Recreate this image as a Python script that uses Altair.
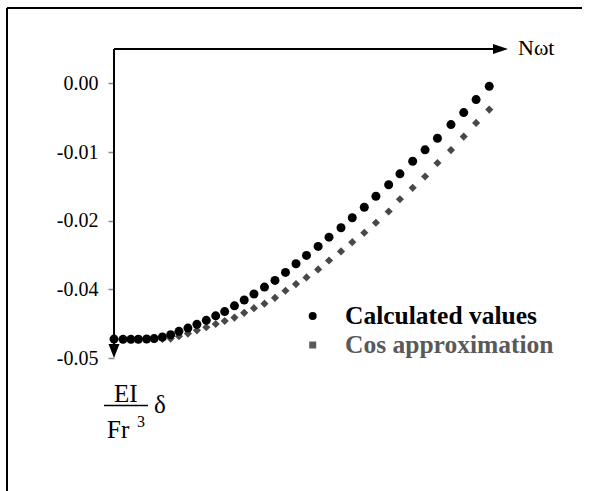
import altair as alt
import pandas as pd

# ---------------- data ----------------
x_vals = [0.0, 0.024, 0.045, 0.065, 0.087, 0.107, 0.129, 0.151, 0.173, 0.197,
          0.221, 0.246, 0.271, 0.295, 0.321, 0.347, 0.373, 0.401, 0.429, 0.457,
          0.485, 0.513, 0.544, 0.573, 0.605, 0.635, 0.667, 0.698, 0.732, 0.762,
          0.796, 0.829, 0.862, 0.898, 0.932, 0.965, 1.0]

calc_vals = [-0.04656, -0.04660, -0.04660, -0.04658, -0.04655, -0.04647, -0.04618,
             -0.04575, -0.04515, -0.04455, -0.04387, -0.04315, -0.04233, -0.04155,
             -0.04051, -0.03944, -0.03835, -0.03709, -0.03587, -0.03442, -0.03284,
             -0.03133, -0.02969, -0.02800, -0.02629, -0.02447, -0.02255, -0.02055,
             -0.01847, -0.01647, -0.01418, -0.01211, -0.01000, -0.00751, -0.00533,
             -0.00296, -0.00055]

cos_vals = [-0.04656, -0.04660, -0.04660, -0.04660, -0.04660, -0.04658, -0.04655,
            -0.04647, -0.04605, -0.04556, -0.04496, -0.04440, -0.04382, -0.04327,
            -0.04264, -0.04178, -0.04093, -0.04011, -0.03905, -0.03775, -0.03655,
            -0.03533, -0.03387, -0.03224, -0.03060, -0.02891, -0.02720, -0.02538,
            -0.02333, -0.02111, -0.01902, -0.01696, -0.01450, -0.01215, -0.00969,
            -0.00720, -0.00478]

y_tick_values = [0.0, -0.0125, -0.025, -0.0375, -0.05]
y_tick_labels = ["0.00", "-0.01", "-0.02", "-0.04", "-0.05"]
series_names = ["Calculated values", "Cos approximation"]
x_title = ["Nωt"]
y_title_num = ["EI"]
y_title_den = ["Fr"]
y_title_exp = ["3"]
y_title_sym = ["δ"]

# ---------------- layout ----------------
W, H = 394, 309
LEFT, TOP = 114, 49
X_MAX = 1.05
Y_MIN, Y_MAX = -0.05, 0.00625
FONT = "Liberation Serif, Times New Roman, serif"

xs = alt.Scale(domain=[0, X_MAX], nice=False, zero=False)
ys = alt.Scale(domain=[Y_MIN, Y_MAX], nice=False, zero=False)

label_arr = "[" + ",".join("'%s'" % s for s in y_tick_labels) + "]"
y_axis = alt.Axis(values=y_tick_values,
                  labelExpr=label_arr + "[round(-datum.value/0.0125)]",
                  domain=False, grid=False, ticks=True, tickColor="#8a8a8a",
                  tickSize=6, tickWidth=1.5, labelFont=FONT, labelFontSize=20,
                  labelColor="black", labelPadding=10, title=None)

X = alt.X("x:Q", scale=xs, axis=None)
Y = alt.Y("y:Q", scale=ys, axis=y_axis)

calc_df = pd.DataFrame({"x": x_vals, "y": calc_vals})
cos_df = pd.DataFrame({"x": x_vals, "y": cos_vals})

cos_layer = alt.Chart(cos_df).mark_point(
    shape="diamond", filled=True, size=66, color="#484848", opacity=1
).encode(x=X, y=Y)

calc_layer = alt.Chart(calc_df).mark_point(
    shape="circle", filled=True, size=81, color="black", opacity=1
).encode(x=X, y=Y)

# axis arrows (drawn through the scales)
h_df = pd.DataFrame({"x": [0.0], "x2": [X_MAX - 0.01], "y": [Y_MAX]})
v_df = pd.DataFrame({"x": [0.0], "y": [Y_MIN + 0.001], "y2": [Y_MAX]})
h_line = alt.Chart(h_df).mark_rule(color="black", strokeWidth=2).encode(
    x=X, x2="x2:Q", y=Y)
v_line = alt.Chart(v_df).mark_rule(color="black", strokeWidth=2).encode(
    x=X, y=Y, y2="y2:Q")

ha_df = pd.DataFrame({"x": [X_MAX], "y": [Y_MAX]})
va_df = pd.DataFrame({"x": [0.0], "y": [Y_MIN]})
h_head = alt.Chart(ha_df).mark_point(
    shape="M-2,-0.667L0,0L-2,0.667Z", filled=True, size=225, color="black", opacity=1
).encode(x=X, y=Y)
v_head = alt.Chart(va_df).mark_point(
    shape="M-0.786,-2L0,0L0.786,-2Z", filled=True, size=196, color="black", opacity=1
).encode(x=X, y=Y)

one = pd.DataFrame({"k": [0]})


def txt(s, x, y, size, color="black", weight="normal"):
    return alt.Chart(one).mark_text(
        text=s, font=FONT, fontSize=size, color=color, fontWeight=weight,
        align="left", baseline="alphabetic"
    ).encode(x=alt.value(x), y=alt.value(y))


def rule(x1, x2, y1, y2, w):
    return alt.Chart(one).mark_rule(color="black", strokeWidth=w).encode(
        x=alt.value(x1), x2=alt.value(x2), y=alt.value(y1), y2=alt.value(y2))


# outer frame (top and left)
frame_top = rule(7 - LEFT, 582 - LEFT, 8 - TOP, 8 - TOP, 2)
frame_left = rule(7 - LEFT, 7 - LEFT, 8 - TOP, 491 - TOP, 2)

# axis titles
t_x = txt(x_title[0], 404, 6, 22)
t_num = txt(y_title_num[0], 0, 353, 25)
t_line = rule(-10, 34, 356.5, 356.5, 1.5)
t_den = txt(y_title_den[0], -7, 389, 25)
t_exp = txt(y_title_exp[0], 23, 378, 16)
t_sym = txt(y_title_sym[0], 40, 364, 25)

# legend
leg_c = alt.Chart(one).mark_point(shape="circle", filled=True, size=64,
                                   color="black", opacity=1).encode(
    x=alt.value(198.7), y=alt.value(267))
leg_s = alt.Chart(one).mark_point(shape="square", filled=True, size=49,
                                   color="#5a5a5a", opacity=1).encode(
    x=alt.value(198.7), y=alt.value(296))
leg_t1 = txt(series_names[0], 231, 275, 25.5, "black", "bold")
leg_t2 = txt(series_names[1], 231, 304, 25.5, "#595959", "bold")

chart = alt.layer(
    frame_top, frame_left, h_line, v_line, h_head, v_head,
    cos_layer, calc_layer,
    t_x, t_num, t_line, t_den, t_exp, t_sym,
    leg_c, leg_s, leg_t1, leg_t2,
).properties(
    width=W, height=H,
    autosize=alt.AutoSizeParams(type="none"),
    padding={"left": LEFT, "top": TOP, "right": 591 - LEFT - W, "bottom": 491 - TOP - H},
    background="white",
).configure_view(stroke=None)

chart.save("out.html", embed_options={"renderer": "svg", "actions": False})
